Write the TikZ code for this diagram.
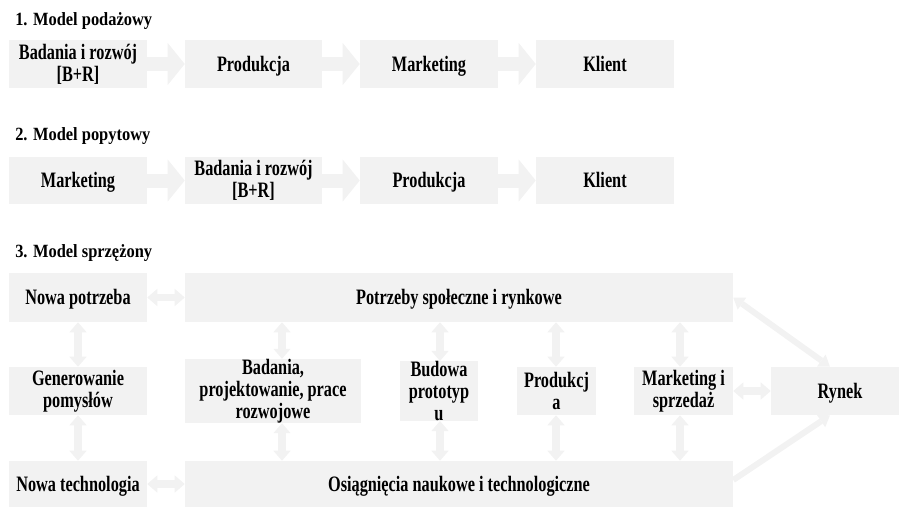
\documentclass[tikz,border=0pt]{standalone}
\usepackage{fontspec}
\setmainfont{Liberation Serif}
\newfontfamily\boxfont{Liberation Serif}[FakeStretch=0.74]
\newfontfamily\titlefont{Liberation Serif}[FakeStretch=0.88]
\usetikzlibrary{arrows.meta}
\definecolor{boxgray}{RGB}{242,242,242}
\tikzset{
  box/.style={fill=boxgray, inner sep=0pt, minimum height=36pt, align=center,
    font=\boxfont\fontsize{16.5}{16.5}\selectfont\bfseries},
  oneline/.style={box, text height=10.9pt, text depth=0pt},
  title/.style={anchor=base west, inner sep=0pt, font=\titlefont\fontsize{14}{16}\selectfont\bfseries},
  bigarrow/.style={draw=boxgray, line width=10.5pt,
    -{Triangle[length=12.75pt, width=31.5pt, line width=0pt]}},
  dblarrow/.style={draw=boxgray, line width=5.5pt,
    {Triangle[length=7.5pt, width=13pt, line width=0pt]}-{Triangle[length=7.5pt, width=13pt, line width=0pt]}},
  diagdbl/.style={draw=boxgray, line width=4.5pt,
    {Triangle[length=8pt, width=11pt, line width=0pt]}-{Triangle[length=8pt, width=11pt, line width=0pt]}},
  diagarrow/.style={draw=boxgray, line width=4.5pt,
    -{Triangle[length=8pt, width=11pt, line width=0pt]}}
}
\begin{document}
\begin{tikzpicture}[x=0.75pt, y=-0.75pt]
\clip (0,0) rectangle (899,507);
% 1. model podazowy
\node[title] at (15,25) {1. Model podażowy};
\node[box, minimum width=103.5pt] (pod1) at (78,64) {Badania i rozwój\\{[B+R]}};
\node[oneline, minimum width=102.75pt] (pod2) at (253.5,64) {Produkcja};
\node[oneline, minimum width=103.5pt] (pod3) at (429,64) {Marketing};
\node[oneline, minimum width=103.5pt] (pod4) at (605,64) {Klient};
\foreach \a/\b in {1/2,2/3,3/4}
	\draw[bigarrow] (pod\a) -- (pod\b);
% 2. model popytowy
\node[title] at (15,140) {2. Model popytowy};
\node[oneline, minimum width=103.5pt, minimum height=35.25pt] (pop1) at (78,180.5) {Marketing};
\node[box, minimum width=102.75pt, minimum height=35.25pt] (pop2) at (253.5,180.5) {Badania i rozwój\\{[B+R]}};
\node[oneline, minimum width=103.5pt, minimum height=35.25pt] (pop3) at (429,180.5) {Produkcja};
\node[oneline, minimum width=103.5pt, minimum height=35.25pt] (pop4) at (605,180.5) {Klient};
\foreach \a/\b in {1/2,2/3,3/4}
	\draw[bigarrow] (pop\a) -- (pop\b);
% 3. model sprzezony
\node[title] at (15,257) {3. Model sprzężony};
\node[oneline, minimum width=103.5pt, minimum height=36.75pt] (np) at (78,297.5) {Nowa potrzeba};
\node[oneline, minimum width=411pt, minimum height=36.75pt] (pot) at (459,297.5) {Potrzeby społeczne i rynkowe};
\node[box, minimum width=103.5pt] (gen) at (78,391) {Generowanie\\pomysłów};
\node[box, minimum width=132pt] (bad) at (273,391) {Badania,\\projektowanie, prace\\rozwojowe};
\node[box, minimum width=58.5pt] (bud) at (439,391) {Budowa\\prototyp\\u};
\node[box, minimum width=59.25pt] (prod) at (556.5,391) {Produkcj\\a};
\node[box, minimum width=74.25pt] (mark) at (683.5,391) {Marketing i\\sprzedaż};
\node[oneline, minimum width=103.5pt] (ryn) at (840,391) {Rynek};
\node[oneline, minimum width=103.5pt, minimum height=34.5pt] (nt) at (78,484) {Nowa technologia};
\node[oneline, minimum width=411pt, minimum height=34.5pt] (osi) at (459,484) {Osiągnięcia naukowe i technologiczne};
\draw[dblarrow] (np) -- (pot);
\draw[dblarrow] (nt) -- (osi);
\draw[dblarrow] (mark) -- (ryn);
\draw[dblarrow] (np) -- (gen);
\draw[dblarrow] (gen) -- (nt);
\foreach \col/\cx in {bad/282,bud/440,prod/556,mark/680}{
	\coordinate (x\col) at (\cx,0);
	\draw[dblarrow] (pot.south -| x\col) -- (\col.north -| x\col);
	\draw[dblarrow] (\col.south -| x\col) -- (osi.north -| x\col);
	}
\draw[diagdbl] (pot.east) -- ([xshift=-7.5pt]ryn.north);
\draw[diagarrow] ([yshift=3pt]osi.east) -- ([xshift=-7.5pt]ryn.south);
\end{tikzpicture}
\end{document}
